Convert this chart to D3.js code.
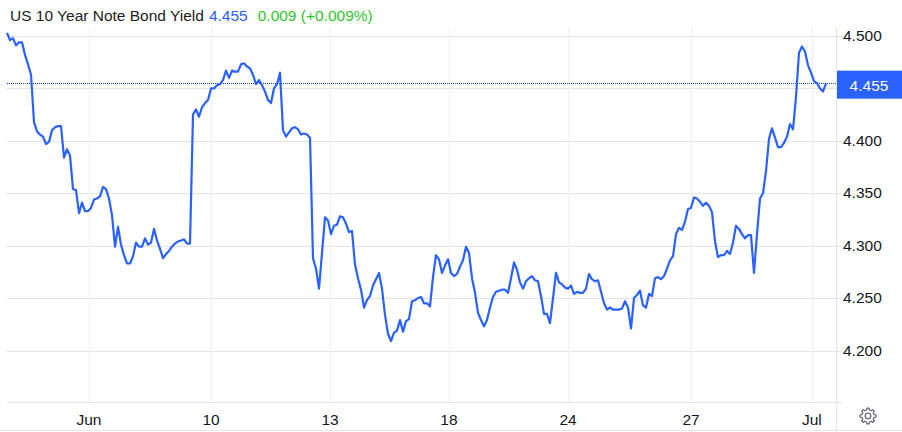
<!DOCTYPE html>
<html><head><meta charset="utf-8">
<script src="https://cdn.jsdelivr.net/npm/d3@7"></script>
<style>
html,body{margin:0;padding:0;background:#fff;}
svg{display:block;font-family:"Liberation Sans",Arial,Helvetica,sans-serif;}
</style></head><body>
<svg id="chart" width="902" height="432"></svg>
<script>
// ---- data ----
const titleText = "US 10 Year Note Bond Yield";
const lastValue = 4.455;
const changeText = "0.009";
const changePctText = "(+0.009%)";
const yieldValues = [
4.503,4.496,4.498,4.491,4.494,4.494,4.482,4.473,4.463,4.418,
4.409,4.406,4.404,4.397,4.399,4.410,4.413,4.414,4.414,4.384,
4.392,4.386,4.354,4.353,4.331,4.341,4.333,4.333,4.336,4.344,
4.345,4.347,4.356,4.354,4.345,4.329,4.299,4.318,4.301,4.291,
4.283,4.283,4.290,4.303,4.299,4.299,4.307,4.301,4.303,4.316,
4.305,4.297,4.288,4.292,4.295,4.299,4.302,4.304,4.305,4.306,
4.302,4.302,4.425,4.430,4.423,4.432,4.436,4.439,4.450,4.450,
4.453,4.454,4.458,4.467,4.460,4.467,4.466,4.466,4.473,4.474,
4.471,4.469,4.463,4.454,4.458,4.453,4.447,4.439,4.436,4.450,
4.454,4.465,4.410,4.404,4.408,4.412,4.413,4.411,4.406,4.407,
4.406,4.403,4.288,4.278,4.259,4.293,4.327,4.324,4.311,4.319,
4.320,4.328,4.327,4.321,4.313,4.314,4.282,4.269,4.258,4.241,
4.248,4.252,4.262,4.268,4.274,4.259,4.234,4.216,4.209,4.217,
4.219,4.229,4.218,4.228,4.230,4.247,4.248,4.250,4.251,4.245,
4.245,4.242,4.270,4.291,4.287,4.274,4.281,4.287,4.274,4.271,
4.273,4.280,4.286,4.299,4.293,4.269,4.255,4.236,4.229,4.223,
4.229,4.241,4.251,4.256,4.257,4.258,4.258,4.255,4.269,4.284,
4.277,4.265,4.259,4.266,4.269,4.271,4.267,4.266,4.252,4.235,
4.235,4.226,4.250,4.274,4.265,4.263,4.260,4.259,4.262,4.254,
4.256,4.255,4.255,4.259,4.273,4.268,4.266,4.267,4.256,4.245,
4.239,4.241,4.239,4.239,4.239,4.240,4.247,4.241,4.221,4.250,
4.253,4.257,4.243,4.241,4.254,4.252,4.269,4.270,4.268,4.271,
4.278,4.286,4.290,4.311,4.317,4.315,4.323,4.335,4.336,4.346,
4.345,4.342,4.338,4.341,4.338,4.332,4.304,4.289,4.291,4.291,
4.295,4.292,4.303,4.319,4.316,4.311,4.307,4.310,4.310,4.274,
4.311,4.345,4.350,4.371,4.402,4.412,4.403,4.394,4.394,4.398,
4.404,4.416,4.411,4.442,4.484,4.490,4.485,4.472,4.465,4.457,
4.455,4.450,4.447,4.455
];
const yTicks = [4.2, 4.25, 4.3, 4.35, 4.4, 4.45, 4.5];
const xTickPositions = [27.3, 68, 107.7, 147.3, 187, 228, 268.3];
const xTickLabels = ["Jun", "10", "13", "18", "24", "27", "Jul"];

// ---- layout ----
const W = 902, H = 432;
const plotL = 7, plotR = 836, plotT = 28, plotB = 402;
const blue = "#2962ff", green = "#2fc42f", ink = "#131722";
const svg = d3.select("#chart");

const x = d3.scaleLinear().domain([0, yieldValues.length - 1]).range([7, 826]);
const y = d3.scaleLinear().domain([4.2, 4.5]).range([350.5, 36]);

// horizontal gridlines
svg.append("g").selectAll("line").data(yTicks).join("line")
  .attr("x1", plotL).attr("x2", 842)
  .attr("y1", d => Math.round(y(d)) + 0.5).attr("y2", d => Math.round(y(d)) + 0.5)
  .attr("stroke", "#e4e4e4").attr("stroke-width", 1.2);

// vertical gridlines
svg.append("g").selectAll("line").data(xTickPositions).join("line")
  .attr("x1", d => Math.round(x(d)) + 0.5).attr("x2", d => Math.round(x(d)) + 0.5)
  .attr("y1", plotT).attr("y2", plotB)
  .attr("stroke", "#edf0f4").attr("stroke-width", 1.2);

// axis frame lines
svg.append("line").attr("x1", plotL).attr("x2", 842).attr("y1", plotB + 0.5).attr("y2", plotB + 0.5)
  .attr("stroke", "#e6e6e6").attr("stroke-width", 1.2);
svg.append("line").attr("x1", 0).attr("x2", W).attr("y1", 430.5).attr("y2", 430.5)
  .attr("stroke", "#e6e6e6").attr("stroke-width", 1.2);
svg.append("line").attr("x1", plotR + 0.5).attr("x2", plotR + 0.5).attr("y1", plotT).attr("y2", 431)
  .attr("stroke", "#e6e6e6").attr("stroke-width", 1.2);

// y labels (the one hidden behind the last-value box is not shown)
const boxTop = y(lastValue) - 12.5, boxBottom = y(lastValue) + 15.5;
svg.append("g").selectAll("text")
  .data(yTicks.filter(d => y(d) + 6 < boxTop || y(d) - 6 > boxBottom)).join("text")
  .attr("x", 843).attr("y", d => y(d) + 5)
  .attr("font-size", "15.5px").attr("fill", ink)
  .text(d => d3.format(".3f")(d));

// x labels
svg.append("g").selectAll("text").data(xTickPositions).join("text")
  .attr("x", d => x(d)).attr("y", 424.5)
  .attr("text-anchor", "middle").attr("font-size", "15.5px").attr("fill", ink)
  .text((d, i) => xTickLabels[i]);

// last value dotted line
svg.append("line").attr("x1", plotL).attr("x2", plotR)
  .attr("y1", Math.round(y(lastValue)) + 0.5).attr("y2", Math.round(y(lastValue)) + 0.5)
  .attr("stroke", "#1048ff").attr("stroke-width", 1).attr("stroke-dasharray", "1,1")
  .attr("shape-rendering", "crispEdges");

// line
const line = d3.line().x((d, i) => x(i)).y(d => y(d));
svg.append("path").datum(yieldValues)
  .attr("d", line).attr("fill", "none")
  .attr("stroke", blue).attr("stroke-width", 2.2).attr("stroke-linejoin", "round");

// price box
svg.append("rect").attr("x", 837).attr("y", boxTop).attr("width", 65).attr("height", 28)
  .attr("fill", blue);
svg.append("text").attr("x", 869).attr("y", y(lastValue) + 7.5)
  .attr("text-anchor", "middle").attr("font-size", "15.5px").attr("fill", "#fff")
  .text(d3.format(".3f")(lastValue));

// title
const t1 = svg.append("text").attr("x", 10).attr("y", 21).attr("font-size", "15.5px").attr("fill", "#222").text(titleText);
const w1 = t1.node().getComputedTextLength();
const t2 = svg.append("text").attr("x", 10 + w1 + 5).attr("y", 21).attr("font-size", "15.5px").attr("fill", blue)
  .text(d3.format(".3f")(lastValue));
const w2 = t2.node().getComputedTextLength();
svg.append("text").attr("x", 10 + w1 + 5 + w2 + 10).attr("y", 21).attr("font-size", "15.5px").attr("fill", green)
  .text(changeText + " " + changePctText);

// gear icon
const gx = 868, gy = 416;
const teeth = 8, rOut = 8, rIn = 6.2;
const pts = [];
for (let k = 0; k < teeth; k++) {
  const a0 = (k / teeth) * 2 * Math.PI;
  const hw = Math.PI / teeth * 0.45;
  pts.push([a0 - hw * 1.25, rIn], [a0 - hw * 0.75, rOut], [a0 + hw * 0.75, rOut], [a0 + hw * 1.25, rIn]);
}
const gearPath = d3.lineRadial().angle(d => d[0]).radius(d => d[1]).curve(d3.curveLinearClosed);
svg.append("path").attr("transform", `translate(${gx},${gy})`).attr("d", gearPath(pts))
  .attr("fill", "none").attr("stroke", "#6a6d78").attr("stroke-width", 1.3).attr("stroke-linejoin", "round");
svg.append("circle").attr("cx", gx).attr("cy", gy).attr("r", 2.8)
  .attr("fill", "none").attr("stroke", "#6a6d78").attr("stroke-width", 1.3);
</script>
</body></html>
